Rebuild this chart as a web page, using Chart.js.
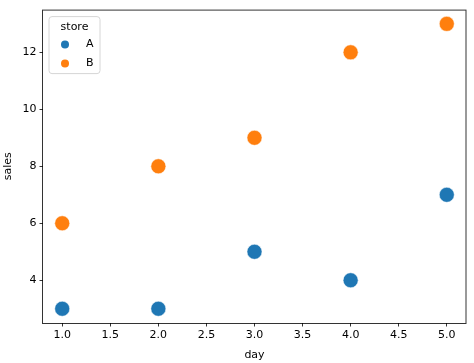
<!DOCTYPE html>
<html>
<head>
<meta charset="utf-8">
<script src="https://cdn.jsdelivr.net/npm/chart.js@4"></script>
<style>
  html, body { margin: 0; padding: 0; background: #ffffff; }
  canvas { display: block; }
</style>
</head>
<body>
<canvas id="c" width="474" height="363"></canvas>
<script>
// ---- data ----
const days = [1, 2, 3, 4, 5];
const storeA = [3, 3, 5, 4, 7];
const storeB = [6, 8, 9, 12, 13];
const storeNames = ['A', 'B'];
const legendTitle = 'store';
const xTickValues = [1.0, 1.5, 2.0, 2.5, 3.0, 3.5, 4.0, 4.5, 5.0];
const yTickValues = [4, 6, 8, 10, 12];
const xTitle = 'day';
const yTitle = 'sales';

const colors = ['#1f77b4', '#ff7f0e'];
const FONT = '"DejaVu Sans", sans-serif';
const FS = 11;

function toPoints(ys) { return days.map((d, i) => ({ x: d, y: ys[i] })); }

const framePlugin = {
  id: 'frame',
  afterDatasetsDraw(chart) {
    const { ctx, chartArea: a } = chart;
    ctx.save();
    // spines
    ctx.strokeStyle = 'rgba(0,0,0,0.8)';
    ctx.lineWidth = 1;
    ctx.strokeRect(a.left - 0.5, a.top + 0.5, a.right - a.left + 0.5, a.bottom - a.top);
    // legend box
    const bx = a.left + 6, by = a.top + 7, bw = 51, bh = 57, r = 3;
    ctx.beginPath();
    ctx.moveTo(bx + r, by);
    ctx.lineTo(bx + bw - r, by);
    ctx.quadraticCurveTo(bx + bw, by, bx + bw, by + r);
    ctx.lineTo(bx + bw, by + bh - r);
    ctx.quadraticCurveTo(bx + bw, by + bh, bx + bw - r, by + bh);
    ctx.lineTo(bx + r, by + bh);
    ctx.quadraticCurveTo(bx, by + bh, bx, by + bh - r);
    ctx.lineTo(bx, by + r);
    ctx.quadraticCurveTo(bx, by, bx + r, by);
    ctx.closePath();
    ctx.fillStyle = 'rgba(255,255,255,0.8)';
    ctx.fill();
    ctx.strokeStyle = '#d6d6d6';
    ctx.lineWidth = 1;
    ctx.stroke();
    ctx.font = FS + 'px ' + FONT;
    ctx.fillStyle = '#000';
    ctx.textBaseline = 'middle';
    ctx.textAlign = 'center';
    ctx.fillText(legendTitle, bx + bw / 2, by + 11);
    chart.data.datasets.forEach((ds, i) => {
      const y = by + 28 + i * 19;
      ctx.beginPath();
      ctx.arc(bx + 16, y, 4, 0, Math.PI * 2);
      ctx.fillStyle = ds.backgroundColor;
      ctx.fill();
      ctx.fillStyle = '#000';
      ctx.textAlign = 'left';
      ctx.fillText(ds.label, bx + 37, y);
    });
    ctx.restore();
  }
};

new Chart(document.getElementById('c'), {
  type: 'scatter',
  data: {
    datasets: [
      { label: storeNames[0], data: toPoints(storeA), backgroundColor: colors[0], borderColor: '#ffffff', borderWidth: 0.5, pointRadius: 7.5, pointHoverRadius: 7.5 },
      { label: storeNames[1], data: toPoints(storeB), backgroundColor: colors[1], borderColor: '#ffffff', borderWidth: 0.5, pointRadius: 7.5, pointHoverRadius: 7.5 }
    ]
  },
  options: {
    responsive: false,
    animation: false,
    layout: { padding: { top: 8, right: 8, left: 0, bottom: 0 } },
    plugins: { legend: { display: false }, tooltip: { enabled: false } },
    scales: {
      x: {
        type: 'linear',
        min: 0.8, max: 5.2,
        afterBuildTicks: s => { s.ticks = xTickValues.map(v => ({ value: v })); },
        afterFit: s => { s.height = 40; },
        grid: { display: true, drawOnChartArea: false, drawTicks: true, tickLength: 3.5, color: '#000', lineWidth: 0.8 },
        border: { display: false },
        ticks: { color: '#000', padding: 2, font: { family: FONT, size: FS }, callback: v => Number(v).toFixed(1), maxRotation: 0, autoSkip: false },
        title: { display: true, text: xTitle, color: '#000', font: { family: FONT, size: FS }, padding: { top: 0, bottom: 1 } }
      },
      y: {
        type: 'linear',
        min: 2.5, max: 13.5,
        afterBuildTicks: s => { s.ticks = yTickValues.map(v => ({ value: v })); },
        afterFit: s => { s.width = 43; },
        grid: { display: true, drawOnChartArea: false, drawTicks: true, tickLength: 3.5, color: '#000', lineWidth: 0.8 },
        border: { display: false },
        ticks: { color: '#000', padding: 3, font: { family: FONT, size: FS }, callback: v => String(v), autoSkip: false },
        title: { display: true, text: yTitle, color: '#000', font: { family: FONT, size: FS }, padding: { top: 2, bottom: 0 } }
      }
    }
  },
  plugins: [framePlugin]
});
</script>
</body>
</html>
